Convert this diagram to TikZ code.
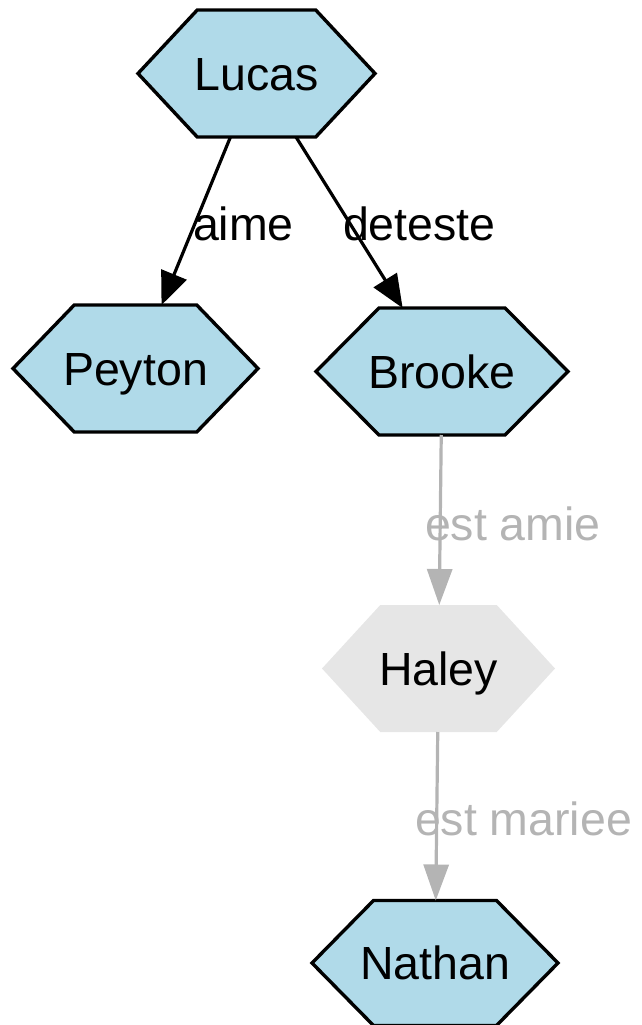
\documentclass[tikz,border=0pt]{standalone}
\usepackage{fontspec}
\setmainfont{Liberation Sans}
\usetikzlibrary{arrows.meta,calc,backgrounds}
\definecolor{hexblue}{RGB}{176,218,233}
\definecolor{hexgray}{RGB}{230,230,230}
\definecolor{edgegray}{RGB}{180,180,180}
\newcommand{\hexof}[1]{(#1.west) -- ($(#1.north west)!0.25!(#1.north east)$) -- ($(#1.north west)!0.75!(#1.north east)$) -- (#1.east) -- ($(#1.south west)!0.75!(#1.south east)$) -- ($(#1.south west)!0.25!(#1.south east)$) -- cycle}
\tikzset{
  hexnode/.style={shape=rectangle, inner sep=0pt, outer sep=0pt, text height=33pt, text depth=0pt,
    font=\fontsize{46.5}{56}\selectfont},
  lbl/.style={inner sep=0pt, outer sep=0pt, anchor=base west, font=\fontsize{46.5}{56}\selectfont},
  blackedge/.style={line width=3.2pt, draw=black, -{Triangle[length=33pt,width=27pt]}},
  grayedge/.style={line width=3.2pt, draw=edgegray, -{Triangle[length=36pt,width=25pt]}},
  bluehex/.style={fill=hexblue, draw=black, line width=3.4pt, line join=miter},
  grayhex/.style={fill=hexgray, draw=none},
}
\begin{document}
\begin{tikzpicture}[x=1pt,y=-1pt]
\useasboundingbox (0,0) rectangle (642,1025);
\node[hexnode, minimum width=237pt, minimum height=127pt] (lucas) at (256.5,73.5) {Lucas};
\node[hexnode, minimum width=245pt, minimum height=127pt] (peyton) at (135.5,368.5) {Peyton};
\node[hexnode, minimum width=252pt, minimum height=127pt] (brooke) at (442,371.5) {Brooke};
\node[hexnode, minimum width=233pt, minimum height=127pt] (haley) at (438.5,668.5) {Haley};
\node[hexnode, minimum width=246pt, minimum height=125pt] (nathan) at (435,963) {Nathan};
\begin{scope}[on background layer]
  \path[bluehex] \hexof{lucas};
  \path[bluehex] \hexof{peyton};
  \path[bluehex] \hexof{brooke};
  \path[grayhex] \hexof{haley};
  \path[bluehex] \hexof{nathan};
\end{scope}
\draw[blackedge] (lucas) -- (peyton);
\draw[blackedge] (lucas) -- (brooke);
\draw[grayedge] (brooke) -- (haley);
\draw[grayedge] (haley) -- (nathan);
\node[lbl] (laime) at (193,240) {aime};
\node[lbl] (ldeteste) at (343,240) {deteste};
\node[lbl, text=edgegray] (lamie) at (425,540) {est amie};
\node[lbl, text=edgegray] (lmariee) at (415,835) {est mariee};
\end{tikzpicture}
\end{document}
